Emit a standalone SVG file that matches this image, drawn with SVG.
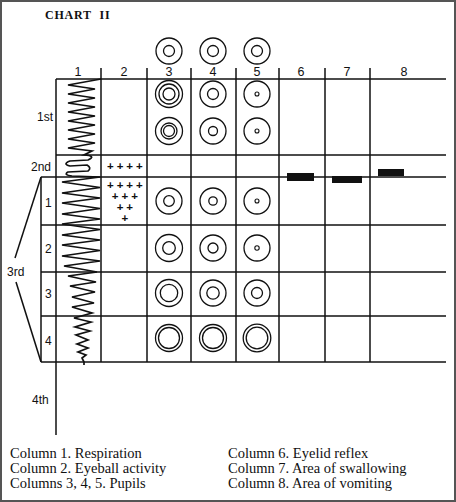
<svg xmlns="http://www.w3.org/2000/svg" width="456" height="502" viewBox="0 0 456 502">
<style>
.ln{stroke:#111;stroke-width:1.5;fill:none}
.c{stroke:#111;stroke-width:1.3;fill:none}
.dot{stroke:#111;stroke-width:1.1;fill:none}
.zz{stroke:#111;stroke-width:1.7;fill:none;stroke-linejoin:miter}
.lab{font-family:"Liberation Sans",Arial,sans-serif;font-size:12px;fill:#111}
.num{font-family:"Liberation Sans",Arial,sans-serif;font-size:12.5px;fill:#111;text-anchor:middle}
.plus{font-family:"Liberation Sans",Arial,sans-serif;font-size:11.5px;font-weight:bold;fill:#111}
.leg{font-family:"Liberation Serif","Times New Roman",serif;font-size:14.5px;fill:#111}
.bar{fill:#111}
</style>
<rect x="1" y="1" width="454" height="500" fill="#fff" stroke="#555" stroke-width="2"/>
<text x="45" y="19" font-family="Liberation Serif,'Times New Roman',serif" font-size="12" font-weight="bold" letter-spacing="0.8" word-spacing="4" fill="#111">CHART II</text>

<g id="connectors">
  <line class="ln" x1="56" y1="79" x2="446" y2="79"/>
  <line class="ln" x1="56" y1="155" x2="446" y2="155"/>
  <line class="ln" x1="41" y1="177" x2="446" y2="177"/>
  <line class="ln" x1="41" y1="225" x2="446" y2="225"/>
  <line class="ln" x1="41" y1="272" x2="446" y2="272"/>
  <line class="ln" x1="41" y1="316" x2="446" y2="316"/>
  <line class="ln" x1="41" y1="362" x2="446" y2="362"/>
  <line class="ln" x1="56" y1="79" x2="56" y2="435"/>
  <line class="ln" x1="41" y1="177" x2="41" y2="362"/>
  <line class="ln" x1="101" y1="68" x2="101" y2="362"/>
  <line class="ln" x1="147" y1="68" x2="147" y2="362"/>
  <line class="ln" x1="191" y1="68" x2="191" y2="362"/>
  <line class="ln" x1="236" y1="68" x2="236" y2="362"/>
  <line class="ln" x1="279" y1="68" x2="279" y2="362"/>
  <line class="ln" x1="325" y1="68" x2="325" y2="362"/>
  <line class="ln" x1="370" y1="68" x2="370" y2="362"/>
  <line class="ln" x1="41" y1="177" x2="15" y2="258"/>
  <line class="ln" x1="16" y1="282" x2="41" y2="362"/>
</g>

<g id="headers">
  <text class="num" x="78" y="76">1</text>
  <text class="num" x="124" y="76">2</text>
  <text class="num" x="169" y="76">3</text>
  <text class="num" x="213" y="76">4</text>
  <text class="num" x="257" y="76">5</text>
  <text class="num" x="301" y="76">6</text>
  <text class="num" x="347" y="76">7</text>
  <text class="num" x="404" y="76">8</text>
</g>

<g id="row-labels">
  <text class="lab" x="37" y="121">1st</text>
  <text class="lab" x="31" y="171">2nd</text>
  <text class="lab" x="45" y="207">1</text>
  <text class="lab" x="45" y="253">2</text>
  <text class="lab" x="45" y="298">3</text>
  <text class="lab" x="45" y="345">4</text>
  <text class="lab" x="7" y="276">3rd</text>
  <text class="lab" x="32" y="404">4th</text>
</g>

<g id="respiration">
  <path class="zz" d="M101,79 L68,85 L95,89 L68,94 L95,98 L68,103 L95,107 L68,112 L95,116 L68,121 L95,125 L68,130 L95,134 L68,139 L95,143 L68,148 L92,151 L84,155 Q97,156 88,160 L70,161 Q62,164 70,166 L87,165 Q92,168 88,171 L68,172 Q63,175 72,176 L100,177 L62,182 L100,187.5 L62,193 L100,198 L62,203 L100,208.5 L62,214 L100,219 L62,224 L100,229.5 L62,235 L100,240 L62,245 L100,250.5 L62,256 L100,261 L64,266 L97,272 L68,276 L96,282 L70,286 L95,292 L72,297 L94,303 L72,307 L92,313 L74,318 L91,322 L75,327 L90,331 L76,335 L88,340 L77,344 L88,348 L78,352 L86,355 L82,358 L84,362 L84,365"/>
</g>

<g id="eyeball">
  <text class="plus"><tspan x="107 116.7 126.3 136" y="170">++++</tspan></text>
  <text class="plus"><tspan x="107 116.7 126.3 136" y="189">++++</tspan></text>
  <text class="plus"><tspan x="111.8 121.5 131.2" y="200">+++</tspan></text>
  <text class="plus"><tspan x="116.7 126.3" y="211">++</tspan></text>
  <text class="plus"><tspan x="121.5" y="222">+</tspan></text>
</g>

<g id="pupils-top">
  <circle class="c" cx="169" cy="51" r="13"/><circle class="c" cx="169" cy="51" r="5.5"/>
  <circle class="c" cx="213" cy="51" r="13"/><circle class="c" cx="213" cy="51" r="5.5"/>
  <circle class="c" cx="257" cy="51" r="13"/><circle class="c" cx="257" cy="51" r="5.5"/>
</g>

<g id="pupils-1st">
  <circle class="c" cx="169" cy="94" r="13.5"/><circle class="c" cx="169" cy="94" r="10"/><circle class="c" cx="169" cy="94" r="6"/>
  <circle class="c" cx="213" cy="94" r="13"/><circle class="c" cx="213" cy="94" r="5.5"/>
  <circle class="c" cx="257" cy="94" r="13"/><circle class="dot" cx="257" cy="94" r="2"/>
  <circle class="c" cx="169" cy="131" r="13.5"/><circle class="c" cx="169" cy="131" r="8"/><circle class="c" cx="169" cy="131" r="5.5"/>
  <circle class="c" cx="213" cy="131" r="13"/><circle class="c" cx="213" cy="131" r="4.5"/>
  <circle class="c" cx="257" cy="131" r="13"/><circle class="dot" cx="257" cy="131" r="2"/>
</g>

<g id="pupils-3rd-1">
  <circle class="c" cx="169" cy="201" r="13"/><circle class="c" cx="169" cy="201" r="5.3"/>
  <circle class="c" cx="213" cy="201" r="13"/><circle class="c" cx="213" cy="201" r="4.2"/>
  <circle class="c" cx="257" cy="201" r="13"/><circle class="dot" cx="257" cy="201" r="2"/>
</g>
<g id="pupils-3rd-2">
  <circle class="c" cx="169" cy="248" r="13.5"/><circle class="c" cx="169" cy="248" r="6.3"/>
  <circle class="c" cx="213" cy="248" r="13"/><circle class="c" cx="213" cy="248" r="5"/>
  <circle class="c" cx="257" cy="248" r="13"/><circle class="dot" cx="257" cy="248" r="2.2"/>
</g>
<g id="pupils-3rd-3">
  <circle class="c" cx="169" cy="293" r="13.5"/><circle class="c" cx="169" cy="293" r="8.7"/>
  <circle class="c" cx="213" cy="293" r="13"/><circle class="c" cx="213" cy="293" r="6.2"/>
  <circle class="c" cx="257" cy="293" r="13"/><circle class="c" cx="257" cy="293" r="5.5"/>
</g>
<g id="pupils-3rd-4">
  <circle class="c" cx="169" cy="338" r="13.5"/><circle class="c" cx="169" cy="338" r="10.5"/>
  <circle class="c" cx="213" cy="338" r="13.5"/><circle class="c" cx="213" cy="338" r="10.5"/>
  <circle class="c" cx="257" cy="338" r="13.8"/><circle class="c" cx="257" cy="338" r="10.8"/>
</g>

<g id="reflex-bars">
  <rect class="bar" x="287" y="173" width="27" height="8"/>
  <rect class="bar" x="332" y="176" width="30" height="7"/>
  <rect class="bar" x="378" y="169" width="26" height="7"/>
</g>

<g id="legend">
  <text class="leg" x="10" y="458">Column 1. Respiration</text>
  <text class="leg" x="10" y="473">Column 2. Eyeball activity</text>
  <text class="leg" x="10" y="488">Columns 3, 4, 5. Pupils</text>
  <text class="leg" x="228" y="458">Column 6. Eyelid reflex</text>
  <text class="leg" x="228" y="473">Column 7. Area of swallowing</text>
  <text class="leg" x="228" y="488">Column 8. Area of vomiting</text>
</g>
</svg>
